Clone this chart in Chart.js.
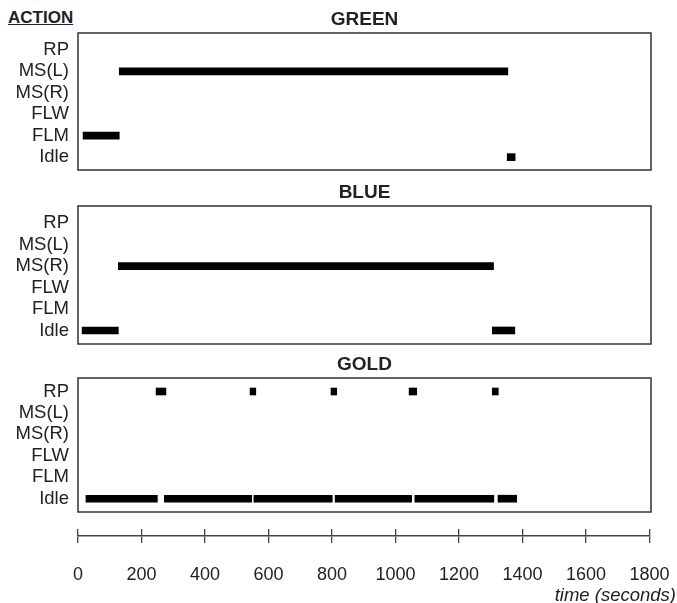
<!DOCTYPE html>
<html>
<head>
<meta charset="utf-8">
<script src="https://cdn.jsdelivr.net/npm/chart.js@4.4.1/dist/chart.umd.min.js"></script>
<style>
  html, body { margin: 0; padding: 0; background: #fff; }
  #fig { position: relative; width: 677px; height: 603px; overflow: hidden;
         font-family: 'Liberation Sans', Arial, sans-serif; color: #222; }
  #fig canvas { position: absolute; left: 0; }
  .action { position: absolute; left: 8px; top: 8px; font-weight: bold; font-size: 17px;
            text-decoration: underline; }
  .xlabel { position: absolute; right: 1px; top: 584px; font-style: italic; font-size: 18.5px; }
</style>
</head>
<body>
<div id="fig">
  <div class="action">ACTION</div>
  <canvas id="green"></canvas>
  <canvas id="blue"></canvas>
  <canvas id="gold"></canvas>
  <canvas id="time-axis"></canvas>
  <div class="xlabel">time (seconds)</div>
</div>
<script>
const ACTIONS    = ['RP', 'MS(L)', 'MS(R)', 'FLW', 'FLM', 'Idle'];
const TIME_TICKS = [0, 200, 400, 600, 800, 1000, 1200, 1400, 1600, 1800];

// one entry per segment: action, start and end time (seconds)
const GREEN_ACT   = ['FLM', 'MS(L)', 'Idle'];
const GREEN_START = [16, 130, 1352];
const GREEN_END   = [130, 1354, 1377];

const BLUE_ACT   = ['Idle', 'MS(R)', 'Idle'];
const BLUE_START = [13, 127, 1305];
const BLUE_END   = [127, 1309, 1376];

const GOLD_ACT   = ['RP', 'RP', 'RP', 'RP', 'RP',
                    'Idle', 'Idle', 'Idle', 'Idle', 'Idle', 'Idle'];
const GOLD_START = [246, 542, 797, 1043, 1305, 25, 272, 554, 810, 1061, 1323];
const GOLD_END   = [277, 560, 815, 1067, 1324, 250, 547, 801, 1051, 1310, 1382];

const FONT = "'Liberation Sans', Arial, sans-serif";
const INK  = '#222';
Chart.defaults.font.family = FONT;
Chart.defaults.color = INK;

// box round the plot area of each panel
const frame = {
    id: 'frame',
    afterDatasetsDraw(chart) {
        const { ctx, chartArea: a } = chart;
        ctx.save();
        ctx.strokeStyle = '#333';
        ctx.lineWidth = 1.5;
        ctx.strokeRect(a.left, a.top, a.right - a.left, a.bottom - a.top);
        ctx.restore();
    }
};

function sizeCanvas(id, top, width, height) {
    const c = document.getElementById(id);
    c.width = width;
    c.height = height;
    c.style.top = top + 'px';
    return c;
}

// boxTop/boxH: where the frame sits; 33px title strip above, 24px spare below
function makePanel(id, title, acts, starts, ends, boxTop, boxH, yMin, yMax) {
    const data = acts.map((a, i) => ({ x: [starts[i], ends[i]], y: ACTIONS.indexOf(a) }));
    return new Chart(sizeCanvas(id, boxTop - 33, 677, boxH + 33 + 24), {
        type: 'bar',
        data: {
            datasets: [{
                data,
                backgroundColor: '#000',
                borderWidth: 0,
                barThickness: 7,
            }]
        },
        plugins: [frame],
        options: {
            indexAxis: 'y',
            responsive: false,
            animation: false,
            events: [],
            layout: { padding: { left: 0, right: 26, top: 0, bottom: 24 } },
            plugins: {
                legend: { display: false },
                tooltip: { enabled: false },
                title: {
                    display: true,
                    text: title,
                    fullSize: false,
                    color: INK,
                    font: { size: 19, weight: 'bold' },
                    padding: { top: 8.1, bottom: 2.1 },
                },
            },
            scales: {
                x: { type: 'linear', min: 0, max: 1805, display: false },
                y: {
                    type: 'linear',
                    reverse: true,
                    offset: false,
                    min: yMin,
                    max: yMax,
                    afterFit: s => { s.width = 78; },
                    afterBuildTicks: s => { s.ticks = ACTIONS.map((_, i) => ({ value: i })); },
                    ticks: {
                        autoSkip: false,
                        padding: 9,
                        color: INK,
                        font: { size: 18.5 },
                        callback: v => ACTIONS[v],
                    },
                    grid: { display: false, drawTicks: false },
                    border: { display: false },
                },
            },
        },
    });
}

makePanel('green', 'GREEN', GREEN_ACT, GREEN_START, GREEN_END, 33,  137, -0.79, 5.6);
makePanel('blue',  'BLUE',  BLUE_ACT,  BLUE_START,  BLUE_END,  206, 138, -0.8,  5.63);
makePanel('gold',  'GOLD',  GOLD_ACT,  GOLD_START,  GOLD_END,  378, 134, -0.63, 5.62);

// shared time axis under the three panels; canvas is wider than the figure so
// the label overhang padding does not squeeze the axis
new Chart(sizeCanvas('time-axis', 520, 720, 83), {
    type: 'scatter',
    data: { datasets: [{ data: [] }] },
    options: {
        responsive: false,
        animation: false,
        events: [],
        layout: { padding: { left: 78, right: 70.5, top: 9, bottom: 0 } },
        plugins: { legend: { display: false }, tooltip: { enabled: false } },
        scales: {
            x: {
                type: 'linear',
                min: 0,
                max: 1800,
                afterFit: s => { s.height = 67; },
                afterBuildTicks: s => { s.ticks = TIME_TICKS.map(v => ({ value: v })); },
                ticks: {
                    autoSkip: false,
                    maxRotation: 0,
                    padding: 21,
                    color: INK,
                    font: { size: 18 },
                    callback: v => String(v),
                },
                grid: { color: '#444', lineWidth: 1.3, drawOnChartArea: true, drawTicks: true, tickLength: 7 },
                border: { display: true, color: '#444', width: 1.5 },
            },
            y: { display: false, min: 0, max: 1 },
        },
    },
});
</script>
</body>
</html>
